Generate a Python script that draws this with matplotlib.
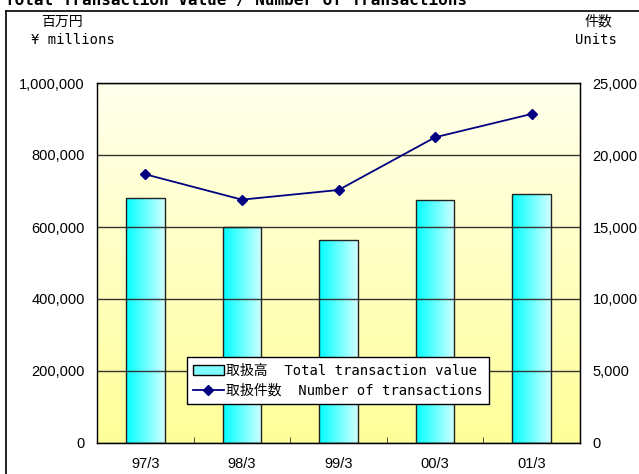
import numpy as np
import matplotlib
matplotlib.use("Agg")
import matplotlib.pyplot as plt
from matplotlib.patches import Patch
from matplotlib.lines import Line2D
from matplotlib.ticker import FuncFormatter

# data
years = ["97/3", "98/3", "99/3", "00/3", "01/3"]
values = [680000, 599000, 564000, 674000, 691000]   # 百万円
counts = [18660, 16900, 17570, 21230, 22850]        # 件数

jp = ["DejaVu Sans Mono", "Noto Sans CJK JP"]
num = "Liberation Sans"

fig = plt.figure(figsize=(6.39, 4.74), dpi=100)
# frame around the figure (cut off at right and bottom)
fig.add_artist(Line2D([6/639, 6/639], [0, 1 - 11/474], color="black", lw=1.2))
fig.add_artist(Line2D([6/639, 1], [1 - 11/474, 1 - 11/474], color="black", lw=1.2))
# title only half visible at the top edge, as in the source
fig.text(5/639, 1.0, "Total Transaction Value / Number of Transactions",
         ha="left", va="center", fontsize=11.5, fontweight="bold",
         family="DejaVu Sans Mono")

ax = fig.add_axes([97/639, 1 - 443/474, 483/639, 360/474])
x = np.arange(len(years))

# background gradient
grad = np.linspace(0, 1, 256).reshape(-1, 1)
bg = np.zeros((256, 1, 3))
top = np.array([1.0, 1.0, 0.93])
bot = np.array([1.0, 1.0, 0.60])
bg[:, 0, :] = top + (bot - top) * grad
ax.imshow(bg, extent=[0, 1, 0, 1], transform=ax.transAxes, aspect="auto", zorder=0)

bars = ax.bar(x, values, width=0.40, facecolor="none", edgecolor="#222222", lw=1.0, zorder=3)
hgrad = np.zeros((1, 256, 3))
c1 = np.array([0.0, 1.0, 1.0])
c2 = np.array([0.82, 1.0, 1.0])
hgrad[0, :, :] = c1 + (c2 - c1) * np.linspace(0, 1, 256).reshape(-1, 1)
for b in bars:
    im = ax.imshow(hgrad, extent=[b.get_x(), b.get_x() + b.get_width(), 0, b.get_height()],
                   aspect="auto", zorder=2)
    im.set_clip_path(b)

ax.set_xlim(-0.5, len(years) - 0.5)
ax.set_ylim(0, 1000000)
ax.set_yticks(np.arange(0, 1000001, 200000))
ax.yaxis.set_major_formatter(FuncFormatter(lambda v, p: f"{int(v):,}"))
ax.grid(axis="y", color="#333333", lw=1.0, zorder=1)
ax.set_axisbelow(False)
ax.set_xticks(x)
ax.set_xticklabels(years, family=num, fontsize=10.5)
ax.set_xticks(np.arange(0.5, len(years) - 0.5, 1), minor=True)
ax.tick_params(axis="x", which="major", length=0, pad=10)
ax.tick_params(axis="x", which="minor", direction="in", length=4, color="#333333")
ax.tick_params(axis="y", length=0, pad=9)
for lab in ax.get_yticklabels():
    lab.set_family(num)
    lab.set_fontsize(10.5)
for s in ax.spines.values():
    s.set_color("black")
    s.set_linewidth(1.0)
ax.spines["left"].set_color("#333333")

ax2 = ax.twinx()
ax2.set_ylim(0, 25000)
ax2.set_yticks(np.arange(0, 25001, 5000))
ax2.yaxis.set_major_formatter(FuncFormatter(lambda v, p: f"{int(v):,}"))
ax2.tick_params(axis="y", length=0, pad=9)
for lab in ax2.get_yticklabels():
    lab.set_family(num)
    lab.set_fontsize(10.5)
ax2.plot(x, counts, color="#000080", lw=1.3, marker="D", markersize=5.5, zorder=5)

fig.text(62/639, 1 - 22/474, "百万円", ha="center", va="center", fontsize=10, family=jp)
fig.text(73/639, 1 - 40/474, "¥ millions", ha="center", va="center", fontsize=10, family=jp)
fig.text(598/639, 1 - 22/474, "件数", ha="center", va="center", fontsize=10, family=jp)
fig.text(596/639, 1 - 40/474, "Units", ha="center", va="center", fontsize=10, family=jp)

handles = [Patch(facecolor="#7ffcff", edgecolor="black", lw=1.0),
           Line2D([0], [0], color="#000080", lw=1.3, marker="D", markersize=5)]
labels = ["取扱高  Total transaction value", "取扱件数  Number of transactions"]
leg = ax2.legend(handles, labels, loc="lower left", bbox_to_anchor=(0.186, 0.108),
                 borderaxespad=0, frameon=True, fancybox=False, edgecolor="black",
                 framealpha=1, prop={"family": jp, "size": 10}, handlelength=2.2,
                 handletextpad=0.2, borderpad=0.45, labelspacing=0.45)
leg.get_frame().set_linewidth(1.0)

fig.savefig("out.png", dpi=100)
